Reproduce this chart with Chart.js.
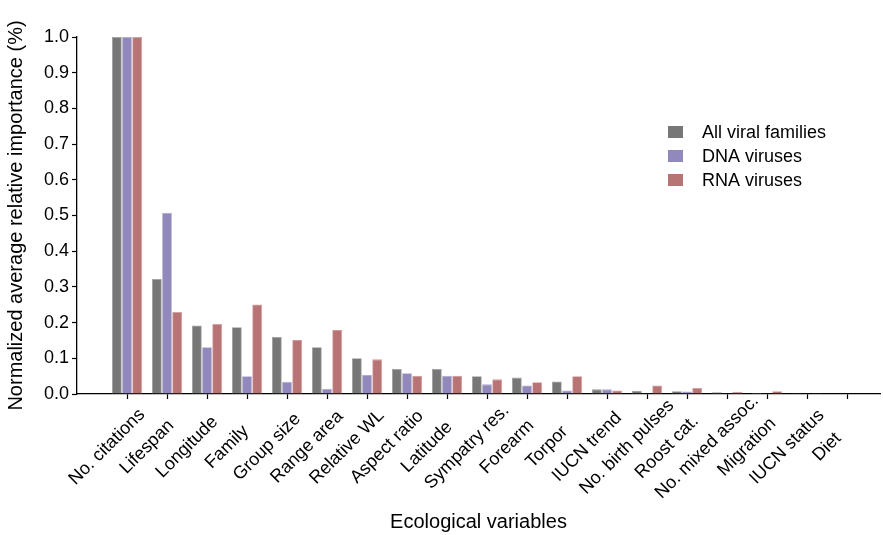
<!DOCTYPE html>
<html>
<head>
<meta charset="utf-8">
<script src="https://cdn.jsdelivr.net/npm/chart.js@4.4.1/dist/chart.umd.min.js"></script>
<style>
  body { margin: 0; background: #fff; }
  #wrap { width: 883px; height: 535px; }
</style>
</head>
<body>
<div id="wrap"><canvas id="myChart"></canvas></div>
<script>
// Data
const categories = ['No. citations', 'Lifespan', 'Longitude', 'Family', 'Group size', 'Range area',
    'Relative WL', 'Aspect ratio', 'Latitude', 'Sympatry res.', 'Forearm', 'Torpor', 'IUCN trend',
    'No. birth pulses', 'Roost cat.', 'No. mixed assoc.', 'Migration', 'IUCN status', 'Diet'];

const allViral = [1.0, 0.322, 0.192, 0.187, 0.160, 0.131, 0.100, 0.070, 0.070, 0.050, 0.046, 0.035,
    0.013, 0.009, 0.008, 0.005, 0.003, 0.001, 0.0];
const dnaViruses = [1.0, 0.508, 0.131, 0.050, 0.034, 0.015, 0.053, 0.058, 0.051, 0.027, 0.024, 0.010,
    0.013, 0.001, 0.007, 0.001, 0.001, 0.0, 0.0];
const rnaViruses = [1.0, 0.230, 0.196, 0.251, 0.151, 0.179, 0.097, 0.051, 0.051, 0.041, 0.033, 0.050,
    0.010, 0.024, 0.017, 0.006, 0.008, 0.001, 0.0];

const yTicks = [0, 0.1, 0.2, 0.3, 0.4, 0.5, 0.6, 0.7, 0.8, 0.9, 1.0];

const FONT = "'Liberation Sans', Arial, Helvetica, sans-serif";

function points(values) {
    return values.map((v, i) => ({ x: i, y: v }));
}

// rotated, centred category labels under the ticks
const centredLabels = {
    id: 'centredLabels',
    afterDraw(chart) {
        const ctx = chart.ctx;
        const xs = chart.scales.x;
        ctx.save();
        ctx.font = '18px ' + FONT;
        ctx.fillStyle = '#000';
        ctx.textAlign = 'center';
        ctx.textBaseline = 'middle';
        categories.forEach((c, i) => {
            ctx.save();
            ctx.translate(xs.getPixelForValue(i) - 20, xs.top + 53);
            ctx.rotate(-Math.PI / 4);
            ctx.fillText(c, 0, 0);
            ctx.restore();
        });
        ctx.restore();
    }
};

// legend sitting inside the plot
const insideLegend = {
    id: 'insideLegend',
    afterDraw(chart) {
        const ctx = chart.ctx;
        ctx.save();
        ctx.font = '18px ' + FONT;
        ctx.textBaseline = 'middle';
        ctx.textAlign = 'left';
        chart.data.datasets.forEach((ds, i) => {
            const y = 132 + i * 24;
            ctx.fillStyle = ds.backgroundColor;
            ctx.fillRect(668, y - 6, 15, 12);
            ctx.fillStyle = '#000';
            ctx.fillText(ds.label, 702, y + 1);
        });
        ctx.restore();
    }
};

const config = {
    type: 'bar',
    data: {
        datasets: [
            {
                label: 'All viral families',
                backgroundColor: '#777777',
                borderColor: '#9a9a9a',
                data: points(allViral),
            },
            {
                label: 'DNA viruses',
                backgroundColor: '#9189bb',
                borderColor: '#aea8d0',
                data: points(dnaViruses),
            },
            {
                label: 'RNA viruses',
                backgroundColor: '#b87474',
                borderColor: '#d09a9a',
                data: points(rnaViruses),
            }
        ]
    },
    options: {
        responsive: true,
        maintainAspectRatio: false,
        animation: false,
        borderWidth: 0.8,
        categoryPercentage: 0.76,
        barPercentage: 0.96,
        layout: { padding: { top: 37, right: 3, left: 0, bottom: 0 } },
        plugins: {
            legend: { display: false },
            tooltip: { enabled: false }
        },
        scales: {
            x: {
                type: 'linear',
                offset: false,
                min: -1.25,
                max: 18.825,
                afterBuildTicks: s => { s.ticks = categories.map((c, i) => ({ value: i })); },
                afterFit: s => { s.height = 141; },
                ticks: { display: false },
                grid: {
                    offset: false,
                    drawOnChartArea: false,
                    tickLength: 5,
                    tickColor: '#000',
                    tickWidth: 1.2
                },
                border: { color: '#000', width: 1.3 },
                title: {
                    display: true,
                    text: 'Ecological variables',
                    color: '#000',
                    font: { family: FONT, size: 20 },
                    padding: { top: 4, bottom: 1 }
                }
            },
            y: {
                min: 0,
                max: 1,
                afterBuildTicks: s => { s.ticks = yTicks.map(v => ({ value: v })); },
                afterFit: s => { s.width = 77; },
                ticks: {
                    color: '#000',
                    padding: 3,
                    font: { family: FONT, size: 18 },
                    callback: v => v.toFixed(1)
                },
                grid: {
                    drawOnChartArea: false,
                    tickLength: 5,
                    tickColor: '#000',
                    tickWidth: 1.2
                },
                border: { color: '#000', width: 1.3 },
                title: {
                    display: true,
                    text: 'Normalized average relative importance (%)',
                    color: '#000',
                    font: { family: FONT, size: 20 },
                    padding: { top: 4, bottom: 4 }
                }
            }
        }
    },
    plugins: [centredLabels, insideLegend]
};

var myChart = new Chart(document.getElementById('myChart'), config);
</script>
</body>
</html>
